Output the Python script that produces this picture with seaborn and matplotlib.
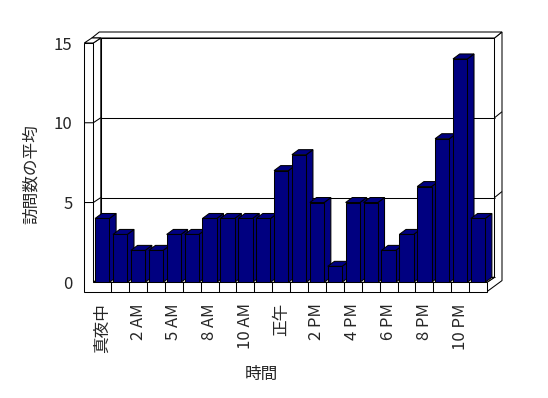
import numpy as np
import pandas as pd
import matplotlib
matplotlib.use('Agg')
import matplotlib.pyplot as plt
import seaborn as sns
from matplotlib.patches import Polygon
from matplotlib.transforms import Affine2D

# ---- data ----
hours = ['真夜中', '1 AM', '2 AM', '3 AM', '5 AM', '7 AM', '8 AM', '9 AM', '10 AM', '11 AM',
         '正午', '1 PM', '2 PM', '3 PM', '4 PM', '5 PM', '6 PM', '7 PM', '8 PM', '9 PM',
         '10 PM', '11 PM']
visits = [4, 3, 2, 2, 3, 3, 4, 4, 4, 4, 7, 8, 5, 1, 5, 5, 2, 3, 6, 9, 14, 4]
y_ticks = [0, 5, 10, 15]
x_label = '時間'
y_label = '訪問数の平均'

sns.set_style('white')
plt.rcParams['font.family'] = ['Noto Sans CJK JP', 'DejaVu Sans']

W, H = 548, 398
fig = plt.figure(figsize=(W / 100, H / 100), dpi=100)
fig.patch.set_facecolor('white')
ax = fig.add_axes([93.3 / W, 1 - 282.3 / H, (487 - 93.3) / W, (282.3 - 43) / H])
ax.set_facecolor('none')

df = pd.DataFrame({'hour': hours, 'visits': visits})
sns.barplot(data=df, x='hour', y='visits', order=hours, color='#000080', saturation=1,
            width=0.8, edgecolor='black', linewidth=0.75, errorbar=None, ax=ax)
bars = list(ax.patches)

ax.set_xlim(-0.5, len(hours) - 0.5)
ax.set_ylim(0, 15)
for s in ax.spines.values():
    s.set_visible(False)

ax.set_yticks(y_ticks)
ax.set_yticklabels([str(v) for v in y_ticks])
ax.tick_params(axis='y', length=0, pad=15, labelsize=12)
ax.set_xticks(range(len(hours)))
ax.set_xticklabels([h if i % 2 == 0 else '' for i, h in enumerate(hours)], rotation=90)
ax.tick_params(axis='x', length=0, pad=15, labelsize=12)

ax.set_xlabel(x_label, fontsize=12)
ax.set_ylabel(y_label, fontsize=12)
ax.xaxis.set_label_coords(0.426, -0.387)
ax.xaxis.label.set_va('center')
ax.yaxis.set_label_coords(-0.158, 0.4526)
ax.yaxis.label.set_va('center')

# ---- 3D frame (image pixel coordinates derived from the axes scales) ----
to_disp = Affine2D().scale(1, -1).translate(0, H)


def img(x, y):
    dx, dy = ax.transData.transform((x, y))
    return float(dx), float(H - dy)


def poly(pts, fc='white', z=1.0):
    ax.add_patch(Polygon(pts, closed=True, transform=to_disp, facecolor=fc,
                         edgecolor='black', lw=0.75, zorder=z, clip_on=False,
                         joinstyle='miter'))


def line(pts, z=1.5):
    pts = np.array(pts)
    ax.plot(pts[:, 0], pts[:, 1], color='black', lw=0.75, transform=to_disp,
            zorder=z, clip_on=False, solid_capstyle='butt')


n = len(hours)
x0, y0 = img(-0.5, 0)
x1, _ = img(n - 0.5, 0)
_, yt = img(-0.5, y_ticks[-1])
T, F = 9.0, 9.3
d1x, d1y = 7.5, -5.0
d2x, d2y = 7.5, -6.0

# back wall inner face
poly([(x0 + d1x, yt + d1y), (x1 + d1x, yt + d1y), (x1 + d1x, y0 + d1y), (x0 + d1x, y0 + d1y)], z=0.5)
# right end face (back wall + floor)
poly([(x1 + d1x, yt + d1y), (x1 + d1x + d2x, yt + d1y + d2y),
      (x1 + d1x + d2x, y0 + F + d1y + d2y), (x1, y0 + F), (x1, y0), (x1 + d1x, y0 + d1y)], z=0.6)
# back wall top strip
poly([(x0 - T + d1x, yt + d1y), (x0 - T + d1x + d2x, yt + d1y + d2y),
      (x1 + d1x + d2x, yt + d1y + d2y), (x1 + d1x, yt + d1y)], z=0.6)
# left wall inner face
poly([(x0, yt), (x0 + d1x, yt + d1y), (x0 + d1x, y0 + d1y), (x0, y0)], z=0.6)
# left wall top
poly([(x0 - T, yt), (x0, yt), (x0 + d1x, yt + d1y), (x0 - T + d1x, yt + d1y)], z=0.7)
# floor top
poly([(x0, y0), (x1, y0), (x1 + d1x, y0 + d1y), (x0 + d1x, y0 + d1y)], z=0.7)

# gridlines
for v in y_ticks[:-1]:
    _, yv = img(-0.5, v)
    line([(x0 + d1x, yv + d1y), (x1 + d1x, yv + d1y)], z=0.8)
    if v > 0:
        line([(x0 - T, yv), (x0, yv), (x0 + d1x, yv + d1y)], z=2.2)
        line([(x1 + d1x, yv + d1y), (x1 + d1x + d2x, yv + d1y + d2y)], z=0.8)

# front L-shaped face (left wall front + floor front)
poly([(x0 - T, yt), (x0, yt), (x0, y0), (x1, y0), (x1, y0 + F), (x0 - T, y0 + F)], z=2.0)
for k in range(1, n):
    xk, _ = img(k - 0.5, 0)
    line([(xk, y0), (xk, y0 + F)], z=2.1)

# ---- 3D bar faces ----
bx, by = 6.7, -5.0
for i, p in enumerate(bars):
    xl, ytp = img(p.get_x(), p.get_y() + p.get_height())
    xr, yb = img(p.get_x() + p.get_width(), p.get_y())
    z = 3 + i * 0.1
    poly([(xr, ytp), (xr + bx, ytp + by), (xr + bx, yb + by), (xr, yb)], fc='#000080', z=z)
    poly([(xl, ytp), (xr, ytp), (xr + bx, ytp + by), (xl + bx, ytp + by)], fc='#000080', z=z)
    p.set_zorder(z + 0.05)

fig.savefig('out.png', dpi=100)
